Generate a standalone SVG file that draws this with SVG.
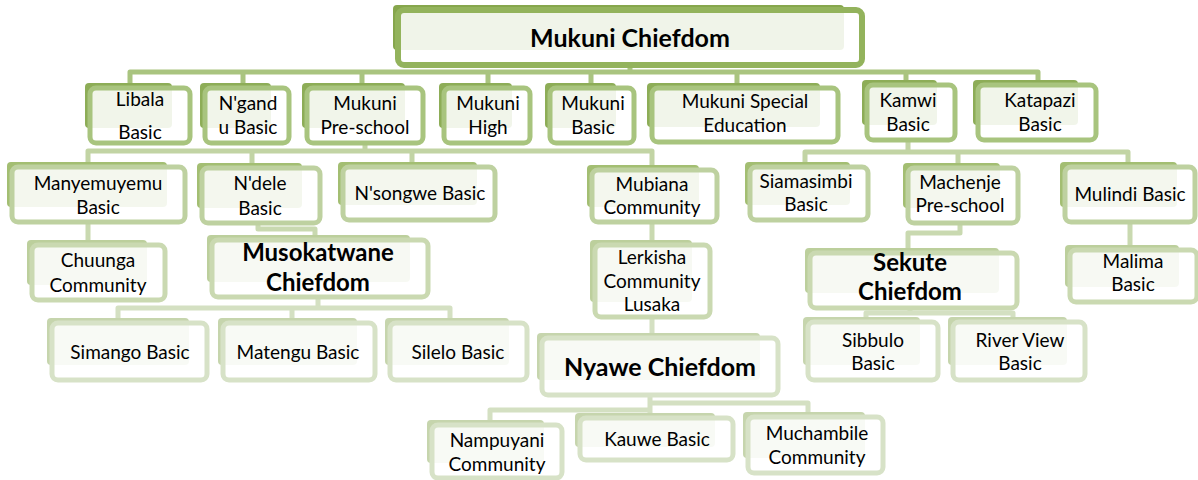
<svg xmlns="http://www.w3.org/2000/svg" width="1198" height="480" viewBox="0 0 1198 480">
<style>
text{font-family:Lato,"Liberation Sans",sans-serif;font-size:19px;fill:#000;text-anchor:middle}
.bold{font-weight:bold;font-size:24px}
.fr{fill:#fff;fill-opacity:0.88;stroke-width:5}
.f0{stroke:#93b35c;stroke-width:6}.b0{fill:#86a64c}
.f1{stroke:#a8c47e}.b1{fill:#8dad57}
.f2{stroke:#bed1a0}.b2{fill:#a3be72}
.f3{stroke:#cad9b1}.b3{fill:#bccf9c}
.f4{stroke:#d7e2c7}.b4{fill:#c6d5ad}
.cn{fill:none;stroke-width:5;stroke-linejoin:round}
.c0{stroke:#a9c47f}.c1{stroke:#c2d4a4}.c2{stroke:#c9d9b0}.c3{stroke:#d4e0c2}
</style>
<g id="connectors">
<path class="cn c0" d="M630,65V72M130,84V72H1038V84M243,72V84M362,72V84M488,72V84M591,72V84M737,72V84M906,72V84"/>
<path class="cn c1" d="M365,143V151M88,165V151H652V168M252,151V166M412,151V165M908,140V152M805,165V152H1128V165M958,152V166"/>
<path class="cn c2" d="M88,222V245M258,222V229H315V240M652,222V245M960,222V233H908V253M1130,222V250"/>
<path class="cn c3" d="M318,297V308M118,322V308H450V322M292,308V322M652,317V338M910,308V313M866,322V313H1013V322"/>
<path class="cn c3" d="M650,395V403H808V417M650,403V410H490V425M650,403V418"/>
</g>
<g id="n-mukuni"><rect class="b0" x="393" y="5" width="451" height="45" rx="4"/><rect class="fr f0" x="398" y="10" width="464" height="55" rx="6"/><text class="bold" x="630" y="47" style="font-size:25px">Mukuni Chiefdom</text></g>
<g id="n-libala"><rect class="b1" x="85" y="83" width="87" height="45" rx="4"/><rect class="fr f1" x="90" y="88" width="100" height="55" rx="6"/><text x="140" y="106">Libala</text><text x="140" y="139">Basic</text></g>
<g id="n-ngandu"><rect class="b1" x="200" y="83" width="71" height="45" rx="4"/><rect class="fr f1" x="205" y="88" width="84" height="55" rx="6"/><text x="248" y="110">N'gand</text><text x="248" y="134">u Basic</text></g>
<g id="n-mpreschool"><rect class="b1" x="302" y="83" width="103" height="45" rx="4"/><rect class="fr f1" x="307" y="88" width="116" height="55" rx="6"/><text x="365" y="110">Mukuni</text><text x="365" y="134">Pre-school</text></g>
<g id="n-mhigh"><rect class="b1" x="439" y="83" width="73" height="45" rx="4"/><rect class="fr f1" x="444" y="88" width="86" height="55" rx="6"/><text x="488" y="110">Mukuni</text><text x="488" y="134">High</text></g>
<g id="n-mbasic"><rect class="b1" x="545" y="83" width="71" height="45" rx="4"/><rect class="fr f1" x="550" y="88" width="84" height="55" rx="6"/><text x="593" y="110">Mukuni</text><text x="593" y="134">Basic</text></g>
<g id="n-special"><rect class="b1" x="647" y="83" width="173" height="44" rx="4"/><rect class="fr f1" x="652" y="88" width="186" height="54" rx="6"/><text x="745" y="108">Mukuni Special</text><text x="745" y="132">Education</text></g>
<g id="n-kamwi"><rect class="b1" x="862" y="80" width="75" height="45" rx="4"/><rect class="fr f1" x="867" y="85" width="88" height="55" rx="6"/><text x="908" y="107">Kamwi</text><text x="908" y="131">Basic</text></g>
<g id="n-katapazi"><rect class="b1" x="973" y="80" width="105" height="45" rx="4"/><rect class="fr f1" x="978" y="85" width="118" height="55" rx="6"/><text x="1040" y="107">Katapazi</text><text x="1040" y="131">Basic</text></g>
<g id="n-manyemuyemu"><rect class="b2" x="7" y="162" width="160" height="45" rx="4"/><rect class="fr f2" x="12" y="167" width="173" height="55" rx="6"/><text x="98" y="190">Manyemuyemu</text><text x="98" y="214">Basic</text></g>
<g id="n-ndele"><rect class="b2" x="197" y="163" width="105" height="45" rx="4"/><rect class="fr f2" x="202" y="168" width="118" height="55" rx="6"/><text x="260" y="190">N'dele</text><text x="260" y="215">Basic</text></g>
<g id="n-nsongwe"><rect class="b2" x="338" y="162" width="139" height="43" rx="4"/><rect class="fr f2" x="343" y="167" width="152" height="53" rx="6"/><text x="420" y="200">N'songwe Basic</text></g>
<g id="n-mubiana"><rect class="b2" x="587" y="165" width="112" height="42" rx="4"/><rect class="fr f2" x="592" y="170" width="125" height="52" rx="6"/><text x="652" y="191">Mubiana</text><text x="652" y="214">Community</text></g>
<g id="n-siamasimbi"><rect class="b2" x="745" y="162" width="105" height="43" rx="4"/><rect class="fr f2" x="750" y="167" width="118" height="53" rx="6"/><text x="806" y="188">Siamasimbi</text><text x="806" y="211">Basic</text></g>
<g id="n-machenje"><rect class="b2" x="903" y="163" width="97" height="45" rx="4"/><rect class="fr f2" x="908" y="168" width="110" height="55" rx="6"/><text x="960" y="189">Machenje</text><text x="960" y="212">Pre-school</text></g>
<g id="n-mulindi"><rect class="b2" x="1060" y="162" width="117" height="45" rx="4"/><rect class="fr f2" x="1065" y="167" width="130" height="55" rx="6"/><text x="1130" y="201">Mulindi Basic</text></g>
<g id="n-chuunga"><rect class="b3" x="27" y="240" width="120" height="45" rx="4"/><rect class="fr f3" x="32" y="245" width="133" height="55" rx="6"/><text x="98" y="267">Chuunga</text><text x="98" y="292">Community</text></g>
<g id="n-musokatwane"><rect class="b3" x="207" y="235" width="203" height="47" rx="4"/><rect class="fr f3" x="212" y="240" width="216" height="57" rx="6"/><text class="bold" x="318" y="261">Musokatwane</text><text class="bold" x="318" y="291">Chiefdom</text></g>
<g id="n-lerkisha"><rect class="b3" x="590" y="240" width="102" height="62" rx="4"/><rect class="fr f3" x="595" y="245" width="115" height="72" rx="6"/><text x="652" y="264">Lerkisha</text><text x="652" y="288">Community</text><text x="652" y="311">Lusaka</text></g>
<g id="n-sekute"><rect class="b3" x="805" y="248" width="194" height="45" rx="4"/><rect class="fr f3" x="810" y="253" width="207" height="55" rx="6"/><text class="bold" x="910" y="271">Sekute</text><text class="bold" x="910" y="300">Chiefdom</text></g>
<g id="n-malima"><rect class="b3" x="1065" y="245" width="114" height="42" rx="4"/><rect class="fr f3" x="1070" y="250" width="127" height="52" rx="6"/><text x="1133" y="268">Malima</text><text x="1133" y="291">Basic</text></g>
<g id="n-simango"><rect class="b4" x="47" y="318" width="142" height="47" rx="4"/><rect class="fr f4" x="52" y="323" width="155" height="57" rx="6"/><text x="130" y="359">Simango Basic</text></g>
<g id="n-matengu"><rect class="b4" x="218" y="318" width="139" height="47" rx="4"/><rect class="fr f4" x="223" y="323" width="152" height="57" rx="6"/><text x="298" y="359">Matengu Basic</text></g>
<g id="n-silelo"><rect class="b4" x="385" y="318" width="124" height="47" rx="4"/><rect class="fr f4" x="390" y="323" width="137" height="57" rx="6"/><text x="458" y="359">Silelo Basic</text></g>
<g id="n-sibbulo"><rect class="b4" x="803" y="317" width="117" height="48" rx="4"/><rect class="fr f4" x="808" y="322" width="130" height="58" rx="6"/><text x="873" y="347">Sibbulo</text><text x="873" y="370">Basic</text></g>
<g id="n-riverview"><rect class="b4" x="948" y="317" width="119" height="48" rx="4"/><rect class="fr f4" x="953" y="322" width="132" height="58" rx="6"/><text x="1020" y="347">River View</text><text x="1020" y="370">Basic</text></g>
<g id="n-nyawe"><rect class="b4" x="537" y="333" width="223" height="47" rx="4"/><rect class="fr f4" x="542" y="338" width="236" height="57" rx="6"/><text class="bold" x="660" y="376" style="font-size:25px">Nyawe Chiefdom</text></g>
<g id="n-nampuyani"><rect class="b4" x="427" y="420" width="117" height="43" rx="4"/><rect class="fr f4" x="432" y="425" width="130" height="53" rx="6"/><text x="497" y="447">Nampuyani</text><text x="497" y="471">Community</text></g>
<g id="n-kauwe"><rect class="b4" x="575" y="413" width="140" height="34" rx="4"/><rect class="fr f4" x="580" y="418" width="153" height="42" rx="6"/><text x="657" y="446">Kauwe Basic</text></g>
<g id="n-muchambile"><rect class="b4" x="743" y="412" width="122" height="46" rx="4"/><rect class="fr f4" x="748" y="417" width="135" height="56" rx="6"/><text x="817" y="440">Muchambile</text><text x="817" y="464">Community</text></g>
</svg>
